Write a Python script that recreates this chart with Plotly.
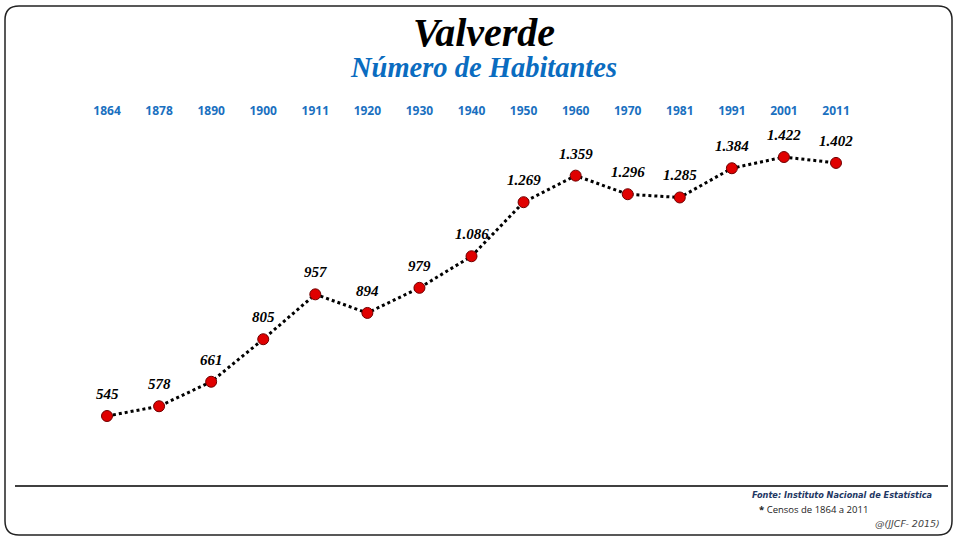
import plotly.graph_objects as go

years = ["1864", "1878", "1890", "1900", "1911", "1920", "1930", "1940",
         "1950", "1960", "1970", "1981", "1991", "2001", "2011"]
population = [545, 578, 661, 805, 957, 894, 979, 1086, 1269, 1359, 1296, 1285, 1384, 1422, 1402]

labels = [f"{v:,}".replace(",", ".") for v in population]
idx = list(range(len(years)))

W, H = 960, 540
ML, MR, MT, MB = 20, 20, 130, 60
PW, PH = W - ML - MR, H - MT - MB


def px(x):
    return (x - ML) / PW


def py(y):
    return (H - MB - y) / PH


fig = go.Figure()
fig.add_trace(go.Scatter(
    x=idx, y=population, mode="lines+markers",
    line=dict(color="black", width=3, dash="dot"),
    marker=dict(size=11, color="#e00000", line=dict(color="#700000", width=1)),
    cliponaxis=False, hoverinfo="skip",
))
for i, v, t in zip(idx, population, labels):
    fig.add_annotation(x=i, y=v, text=t, showarrow=False, yshift=22,
                       xanchor="center", yanchor="middle",
                       font=dict(family="Liberation Serif", size=15, color="black",
                                 weight="bold", style="italic"))

# rounded frame
x0, x1, y0, y1, r = 5, 952, 6, 535, 14
path = (f"M {px(x0+r)} {py(y0)} L {px(x1-r)} {py(y0)} Q {px(x1)} {py(y0)} {px(x1)} {py(y0+r)} "
        f"L {px(x1)} {py(y1-r)} Q {px(x1)} {py(y1)} {px(x1-r)} {py(y1)} "
        f"L {px(x0+r)} {py(y1)} Q {px(x0)} {py(y1)} {px(x0)} {py(y1-r)} "
        f"L {px(x0)} {py(y0+r)} Q {px(x0)} {py(y0)} {px(x0+r)} {py(y0)} Z")
fig.add_shape(type="path", path=path, xref="paper", yref="paper",
              line=dict(color="#222222", width=1.5), layer="above")
fig.add_shape(type="line", xref="paper", yref="paper",
              x0=px(15), x1=px(948), y0=py(486), y1=py(486),
              line=dict(color="black", width=1.5))

fig.add_annotation(
    text=("<span style='font-size:40px'>Valverde</span><br>"
          "<span style='font-size:28.5px;color:#0a6cc0'>Número de Habitantes</span>"),
    xref="paper", yref="paper", x=px(483), y=py(46),
    showarrow=False, xanchor="center", yanchor="middle",
    font=dict(family="Liberation Serif", size=24, color="black", weight="bold", style="italic"))
fig.add_annotation(text="Fonte: Instituto Nacional de Estatística", xref="paper", yref="paper",
                   x=px(934), y=py(495), showarrow=False, xanchor="right", yanchor="middle",
                   font=dict(family="DejaVu Sans", size=8.2, color="#1f3864", weight="bold", style="italic"))
fig.add_annotation(text="<b>*</b> Censos de 1864 a 2011", xref="paper", yref="paper",
                   x=px(757), y=py(510), showarrow=False, xanchor="left", yanchor="middle",
                   font=dict(family="Open Sans", size=9.5, color="#222222"))
fig.add_annotation(text="@(JJCF- 2015)", xref="paper", yref="paper",
                   x=px(942), y=py(523), showarrow=False, xanchor="right", yanchor="middle",
                   font=dict(family="DejaVu Sans", size=9.5, color="#444444", style="italic"))

fig.update_layout(
    width=W, height=H, margin=dict(l=ML, r=MR, t=MT, b=MB),
    paper_bgcolor="white", plot_bgcolor="white", showlegend=False,
    xaxis=dict(range=[-1.671, 15.997], tickvals=idx, ticktext=years, side="top",
               showgrid=False, zeroline=False, showline=False, ticks="",
               tickfont=dict(family="Open Sans", size=12, color="#1a70c0", weight="bold"),
               ticklabelstandoff=12),
    yaxis=dict(range=[328.3, 1513.5], visible=False, showgrid=False, zeroline=False),
)

fig.write_html("out.html")
